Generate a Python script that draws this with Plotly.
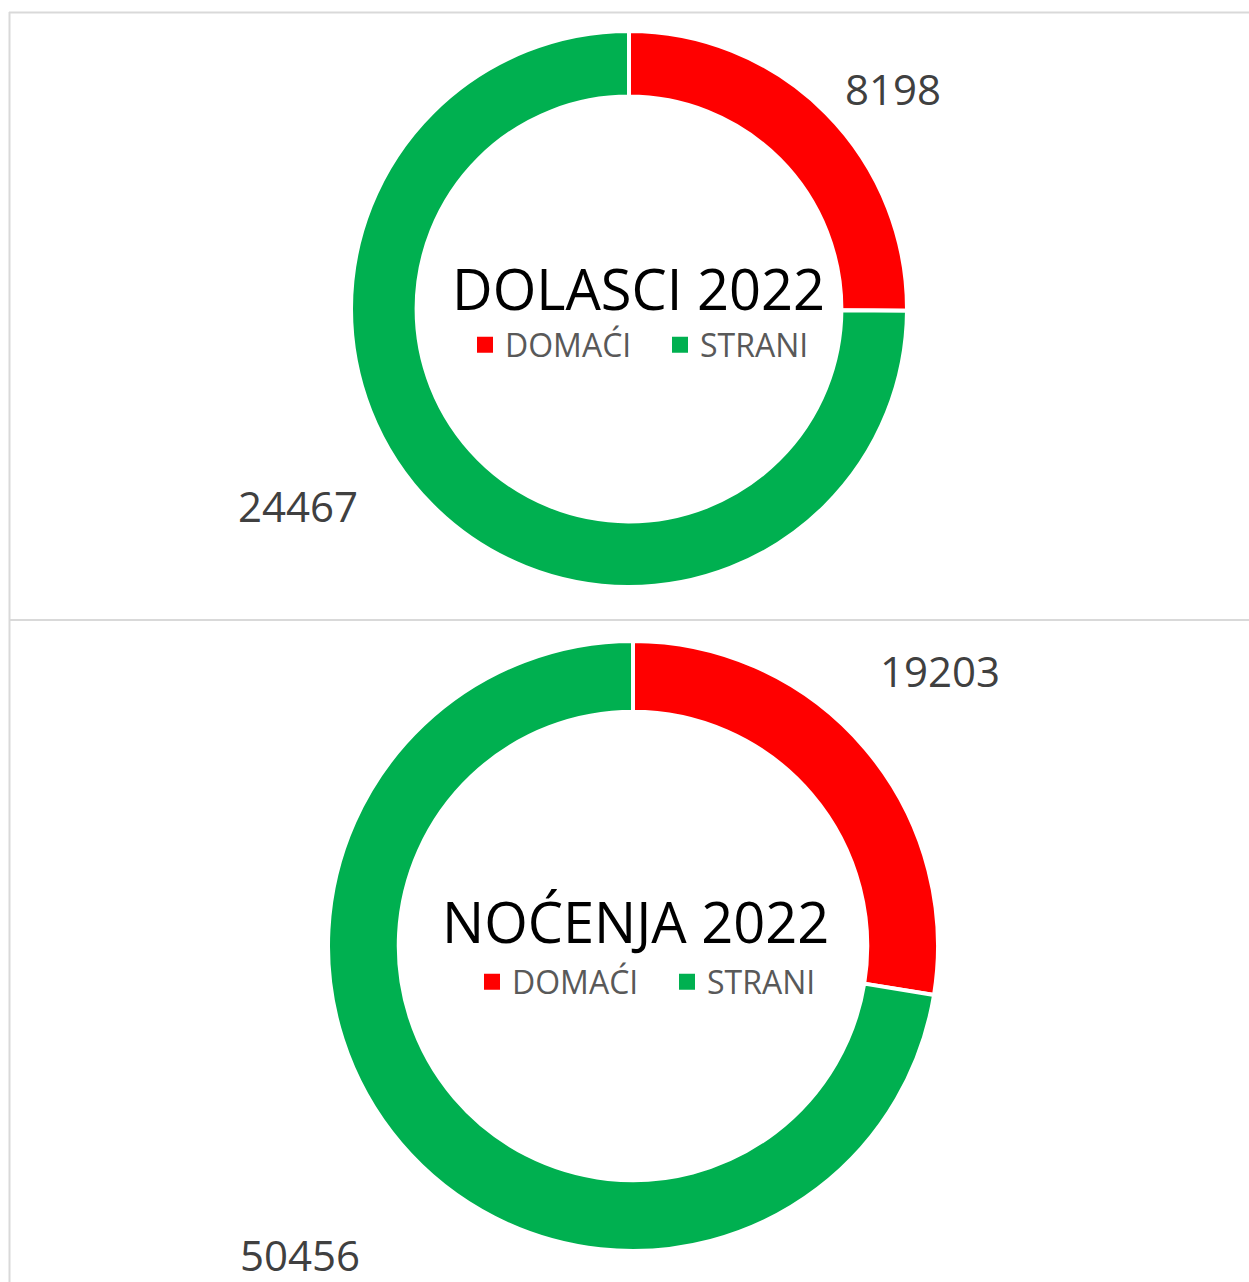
import plotly.graph_objects as go

categories = ["DOMAĆI", "STRANI"]
dolasci = [8198, 24467]
nocenja = [19203, 50456]
titles = ["DOLASCI 2022", "NOĆENJA 2022"]
colors = ["#FF0000", "#00B050"]

W, H = 1249, 1282
FONT = "Open Sans"

def px_x(x):
    return x / W

def px_y(y):
    return 1 - y / H

fig = go.Figure()

# top donut: center (629,309) ; bottom: center (633,946)
R1, R2 = 278, 305
fig.add_trace(go.Pie(
    labels=categories, values=dolasci, hole=0.764, sort=False,
    direction="clockwise", rotation=0, textinfo="none",
    marker=dict(colors=colors, line=dict(color="white", width=4)),
    domain=dict(x=[px_x(629 - R1), px_x(629 + R1)], y=[px_y(309 + R1), px_y(309 - R1)]),
    showlegend=False, hoverinfo="label+value",
))
fig.add_trace(go.Pie(
    labels=categories, values=nocenja, hole=0.768, sort=False,
    direction="clockwise", rotation=0, textinfo="none",
    marker=dict(colors=colors, line=dict(color="white", width=4)),
    domain=dict(x=[px_x(633 - R2), px_x(633 + R2)], y=[px_y(946 + R2), px_y(946 - R2)]),
    showlegend=False, hoverinfo="label+value",
))

# legend entries (one legend per donut)
for leg in ["legend", "legend2"]:
    for cat, col in zip(categories, colors):
        fig.add_trace(go.Scatter(
            x=[None], y=[None], mode="markers", name=cat,
            marker=dict(symbol="square", size=16, color=col),
            legend=leg, showlegend=True, hoverinfo="skip",
        ))

annotations = []
label_pos = [
    [(893, 88), (298, 505)],
    [(940, 670), (300, 1254)],
]
for vals, poss in zip([dolasci, nocenja], label_pos):
    for v, (x, y) in zip(vals, poss):
        annotations.append(dict(
            x=px_x(x), y=px_y(y), xref="paper", yref="paper", text=str(v),
            showarrow=False, xanchor="center", yanchor="middle",
            font=dict(family=FONT, size=42, color="#404040"),
        ))
for t, (x, y) in zip(titles, [(638, 288), (635, 921)]):
    annotations.append(dict(
        x=px_x(x), y=px_y(y), xref="paper", yref="paper", text=t,
        showarrow=False, xanchor="center", yanchor="middle",
        font=dict(family=FONT, size=56, color="#000000"),
    ))

legend_style = dict(
    orientation="h", xanchor="center", yanchor="middle",
    font=dict(family=FONT, size=32, color="#595959"),
    bgcolor="rgba(0,0,0,0)", itemsizing="trace",
    entrywidth=150, entrywidthmode="pixels",
)

shapes = [
    dict(type="line", xref="paper", yref="paper", x0=px_x(9), x1=1, y0=px_y(12.5), y1=px_y(12.5),
         line=dict(color="#D9D9D9", width=2)),
    dict(type="line", xref="paper", yref="paper", x0=px_x(9.5), x1=px_x(9.5), y0=px_y(12), y1=0,
         line=dict(color="#D9D9D9", width=2)),
    dict(type="line", xref="paper", yref="paper", x0=px_x(9), x1=1, y0=px_y(620), y1=px_y(620),
         line=dict(color="#D9D9D9", width=2)),
]

fig.update_layout(
    width=W, height=H,
    margin=dict(l=0, r=0, t=0, b=0),
    paper_bgcolor="white", plot_bgcolor="white",
    xaxis=dict(visible=False), yaxis=dict(visible=False),
    showlegend=True,
    legend=dict(x=px_x(660), y=px_y(345), **legend_style),
    legend2=dict(x=px_x(667), y=px_y(982), **legend_style),
    annotations=annotations,
    shapes=shapes,
)

fig.write_html("out.html", config={"displayModeBar": False},
               post_script="document.body.style.margin='0';document.body.style.overflow='hidden';")
